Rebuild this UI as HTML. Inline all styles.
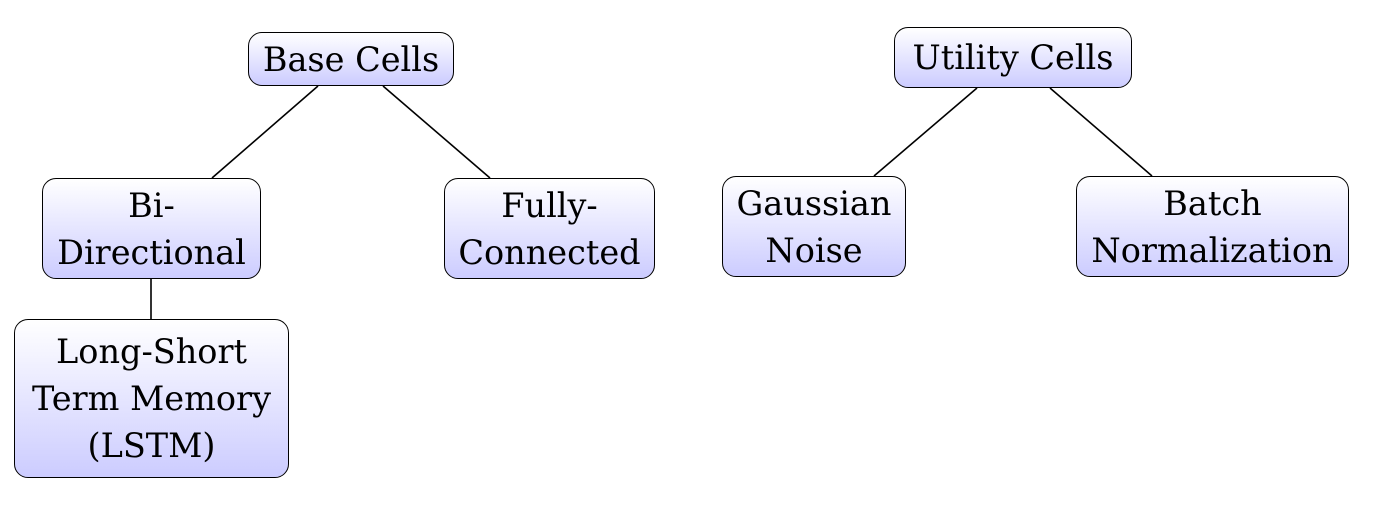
<!DOCTYPE html>
<html><head><style>
body{margin:0;width:1380px;height:511px;background:#fff;position:relative;overflow:hidden;}
.b{position:absolute;box-sizing:border-box;border:1.5px solid #000;border-radius:14px;background:linear-gradient(#fff,#ccccff);display:flex;flex-direction:column;justify-content:center;align-items:center;text-align:center;font-family:"DejaVu Serif",serif;font-size:33.5px;line-height:47px;color:#000;white-space:nowrap;}
svg{position:absolute;left:0;top:0}
</style></head><body>
<svg width="1380" height="511"><g stroke="#000" stroke-width="1.6">
<line x1="318" y1="86" x2="212" y2="178"/><line x1="383" y1="86" x2="490" y2="178"/>
<line x1="151" y1="279" x2="151" y2="319"/>
<line x1="977" y1="88" x2="874" y2="176"/><line x1="1050" y1="88" x2="1152" y2="176"/>
</g></svg>
<div class="b" style="left:248px;top:32px;width:206px;height:54px">Base Cells</div>
<div class="b" style="left:894px;top:27px;width:238px;height:61px">Utility Cells</div>
<div class="b" style="left:42px;top:178px;width:219px;height:101px">Bi-<br>Directional</div>
<div class="b" style="left:444px;top:178px;width:211px;height:101px">Fully-<br>Connected</div>
<div class="b" style="left:722px;top:176px;width:184px;height:101px">Gaussian<br>Noise</div>
<div class="b" style="left:1076px;top:176px;width:273px;height:101px">Batch<br>Normalization</div>
<div class="b" style="left:14px;top:319px;width:275px;height:159px">Long-Short<br>Term Memory<br>(LSTM)</div>
</body></html>
